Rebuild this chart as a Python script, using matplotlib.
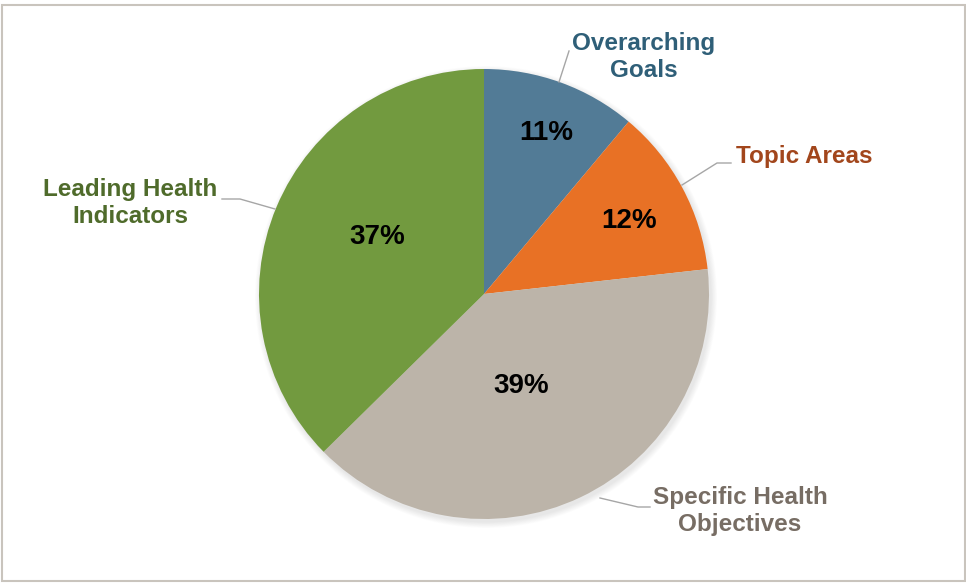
import matplotlib.pyplot as plt
from matplotlib.patches import Rectangle

plt.rcParams['font.family'] = ['Liberation Sans', 'DejaVu Sans']

# Share of items by category
categories = ['Overarching\nGoals', 'Topic Areas', 'Specific Health\nObjectives', 'Leading Health\nIndicators']
shares = [11, 12, 39, 37]
slice_colors = ['#527b96', '#e87125', '#bcb4a9', '#729a3f']
text_colors = ['#2f5f78', '#a2461c', '#776d64', '#4f6b2b']

# label anchor (text centre) and leader line points, in pixels from top-left
label_xy = [(644, 57), (804, 157), (740, 511), (130, 203)]
leaders = [
    [(559, 82), (569, 51)],
    [(682, 185), (717, 163), (731, 163)],
    [(600, 498), (638, 507), (650, 507)],
    [(275, 209), (240, 199), (222, 199)],
]

W, H = 966, 584
fig = plt.figure(figsize=(W / 100, H / 100), dpi=100)
ax = fig.add_axes([0, 0, 1, 1])

cx, cy, r = 484, H - 294, 225

# soft shadow under the pie
for i in range(8):
    ax.add_patch(plt.Circle((cx + 2, cy - 3), r + 6 - i * 0.8, color='#000000', alpha=0.012, lw=0))

wedges, _ = ax.pie(shares, colors=slice_colors, startangle=90, counterclock=False,
                   center=(cx, cy), radius=r, wedgeprops=dict(linewidth=0))

# pie() resets the limits, so set them afterwards
ax.set_xlim(0, W)
ax.set_ylim(0, H)
ax.set_aspect('equal')
ax.axis('off')

# outer frame
ax.add_patch(Rectangle((1.5, 3.5), W - 3, H - 8, fill=False, edgecolor='#c9c4bd', lw=1.5))

pct_xy = [(546, 133), (629, 221), (521, 386), (377, 237)]
for (x, y), v in zip(pct_xy, shares):
    ax.text(x, H - y, f'{v}%', ha='center', va='center', fontsize=20, fontweight='bold', color='black')

for lbl, (x, y), col in zip(categories, label_xy, text_colors):
    ax.text(x, H - y, lbl, ha='center', va='center', fontsize=17.5, fontweight='bold',
            color=col, linespacing=1.25)

for pts in leaders:
    xs = [p[0] for p in pts]
    ys = [H - p[1] for p in pts]
    ax.plot(xs, ys, color='#a6a6a6', lw=1)

fig.savefig('out.png', dpi=100)
